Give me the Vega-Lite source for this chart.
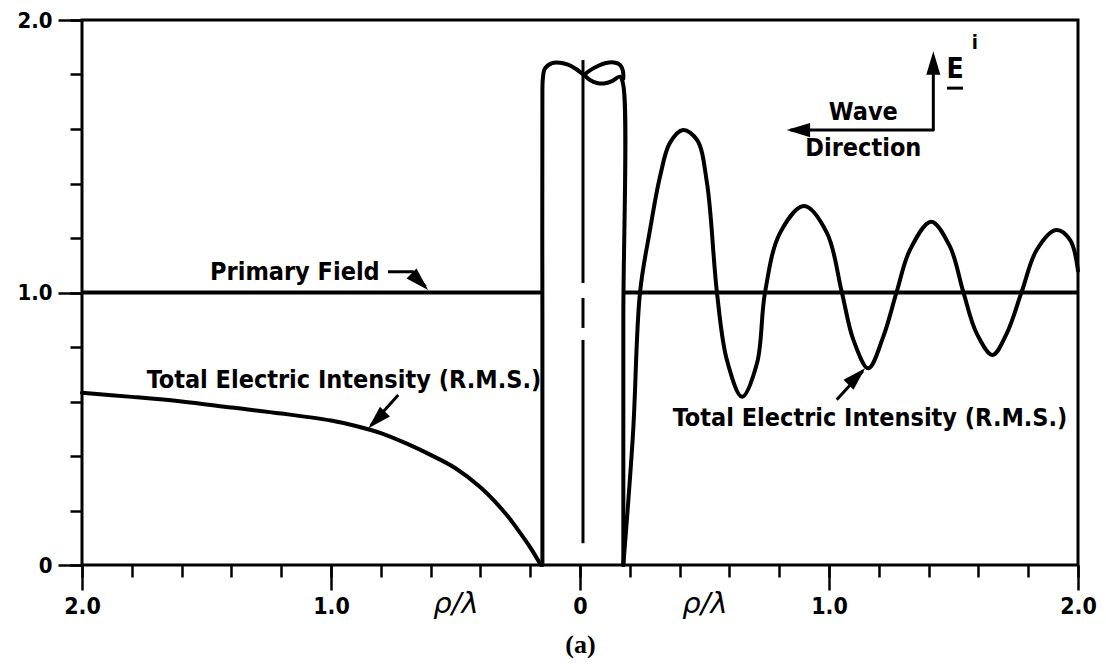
{
  "$schema": "https://vega.github.io/schema/vega-lite/v6.json",
  "width": 996,
  "height": 545,
  "autosize": {"type": "none"},
  "padding": {"left": 82, "top": 20, "right": 28, "bottom": 103},
  "background": "white",
  "config": {
    "view": {"stroke": "black", "strokeWidth": 3},
    "axis": {"grid": false, "domain": false, "tickColor": "black", "tickWidth": 2.5, "labelColor": "black", "titleColor": "black", "labelFlush": false, "labelOverlap": false, "labelBound": false}
  },
  "datasets": {
    "curve": [
      {"path": "left", "i": 1, "x": -2.0, "y": 0.632},
      {"path": "left", "i": 2, "x": -1.8, "y": 0.617},
      {"path": "left", "i": 3, "x": -1.6, "y": 0.600},
      {"path": "left", "i": 4, "x": -1.4, "y": 0.578},
      {"path": "left", "i": 5, "x": -1.2, "y": 0.556},
      {"path": "left", "i": 6, "x": -1.0, "y": 0.530},
      {"path": "left", "i": 7, "x": -0.9, "y": 0.510},
      {"path": "left", "i": 8, "x": -0.8, "y": 0.484},
      {"path": "left", "i": 9, "x": -0.7, "y": 0.447},
      {"path": "left", "i": 10, "x": -0.6, "y": 0.404},
      {"path": "left", "i": 11, "x": -0.5, "y": 0.355},
      {"path": "left", "i": 12, "x": -0.4, "y": 0.285},
      {"path": "left", "i": 13, "x": -0.3, "y": 0.190},
      {"path": "left", "i": 14, "x": -0.25, "y": 0.130},
      {"path": "left", "i": 15, "x": -0.2, "y": 0.065},
      {"path": "left", "i": 16, "x": -0.157, "y": 0.0},
      {"path": "cyl", "i": 1, "x": -0.151, "y": 0.0},
      {"path": "cyl", "i": 2, "x": -0.151, "y": 0.9},
      {"path": "cyl", "i": 3, "x": -0.151, "y": 1.74},
      {"path": "cyl", "i": 4, "x": -0.149, "y": 1.787},
      {"path": "cyl", "i": 5, "x": -0.141, "y": 1.822},
      {"path": "cyl", "i": 6, "x": -0.112, "y": 1.842},
      {"path": "cyl", "i": 7, "x": -0.080, "y": 1.843},
      {"path": "cyl", "i": 8, "x": -0.048, "y": 1.836},
      {"path": "cyl", "i": 9, "x": -0.016, "y": 1.820},
      {"path": "cyl", "i": 10, "x": 0.016, "y": 1.798},
      {"path": "cyl", "i": 11, "x": 0.040, "y": 1.780},
      {"path": "cyl", "i": 12, "x": 0.068, "y": 1.769},
      {"path": "cyl", "i": 13, "x": 0.096, "y": 1.767},
      {"path": "cyl", "i": 14, "x": 0.129, "y": 1.776},
      {"path": "cyl", "i": 15, "x": 0.160, "y": 1.792},
      {"path": "cyl", "i": 16, "x": 0.174, "y": 1.76},
      {"path": "cyl", "i": 17, "x": 0.174, "y": 0.9},
      {"path": "cyl", "i": 18, "x": 0.174, "y": 0.0},
      {"path": "lobe", "i": 1, "x": 0.016, "y": 1.798},
      {"path": "lobe", "i": 2, "x": 0.040, "y": 1.815},
      {"path": "lobe", "i": 3, "x": 0.072, "y": 1.831},
      {"path": "lobe", "i": 4, "x": 0.104, "y": 1.842},
      {"path": "lobe", "i": 5, "x": 0.137, "y": 1.844},
      {"path": "lobe", "i": 6, "x": 0.161, "y": 1.835},
      {"path": "lobe", "i": 7, "x": 0.172, "y": 1.815},
      {"path": "lobe", "i": 8, "x": 0.174, "y": 1.785},
      {"path": "right", "i": 1, "x": 0.174, "y": 0.0},
      {"path": "right", "i": 2, "x": 0.213, "y": 0.484},
      {"path": "right", "i": 3, "x": 0.241, "y": 1.0},
      {"path": "right", "i": 4, "x": 0.281, "y": 1.229},
      {"path": "right", "i": 5, "x": 0.321, "y": 1.424},
      {"path": "right", "i": 6, "x": 0.361, "y": 1.549},
      {"path": "right", "i": 7, "x": 0.414, "y": 1.596},
      {"path": "right", "i": 8, "x": 0.47, "y": 1.560},
      {"path": "right", "i": 9, "x": 0.51, "y": 1.402},
      {"path": "right", "i": 10, "x": 0.55, "y": 1.0},
      {"path": "right", "i": 11, "x": 0.59, "y": 0.752},
      {"path": "right", "i": 12, "x": 0.651, "y": 0.617},
      {"path": "right", "i": 13, "x": 0.711, "y": 0.741},
      {"path": "right", "i": 14, "x": 0.743, "y": 1.0},
      {"path": "right", "i": 15, "x": 0.803, "y": 1.218},
      {"path": "right", "i": 16, "x": 0.9, "y": 1.317},
      {"path": "right", "i": 17, "x": 0.992, "y": 1.218},
      {"path": "right", "i": 18, "x": 1.051, "y": 1.003},
      {"path": "right", "i": 19, "x": 1.098, "y": 0.826},
      {"path": "right", "i": 20, "x": 1.158, "y": 0.722},
      {"path": "right", "i": 21, "x": 1.218, "y": 0.838},
      {"path": "right", "i": 22, "x": 1.272, "y": 1.003},
      {"path": "right", "i": 23, "x": 1.325, "y": 1.156},
      {"path": "right", "i": 24, "x": 1.41, "y": 1.260},
      {"path": "right", "i": 25, "x": 1.486, "y": 1.168},
      {"path": "right", "i": 26, "x": 1.539, "y": 1.003},
      {"path": "right", "i": 27, "x": 1.593, "y": 0.850},
      {"path": "right", "i": 28, "x": 1.657, "y": 0.771},
      {"path": "right", "i": 29, "x": 1.714, "y": 0.850},
      {"path": "right", "i": 30, "x": 1.774, "y": 1.003},
      {"path": "right", "i": 31, "x": 1.834, "y": 1.156},
      {"path": "right", "i": 32, "x": 1.912, "y": 1.229},
      {"path": "right", "i": 33, "x": 1.968, "y": 1.193},
      {"path": "right", "i": 34, "x": 2.0, "y": 1.08}
    ],
    "primary": [
      {"seg": "left", "x": -2.0, "y": 1.0},
      {"seg": "left", "x": -0.151, "y": 1.0},
      {"seg": "right", "x": 0.174, "y": 1.0},
      {"seg": "right", "x": 2.0, "y": 1.0}
    ],
    "center": [
      {"x": 0.012, "y": 1.853, "y2": 1.035},
      {"x": 0.012, "y": 0.98, "y2": 0.87},
      {"x": 0.012, "y": 0.826, "y2": 0.08}
    ],
    "arrows": [
      {"path": "pf", "i": 1, "x": -0.771, "y": 1.076},
      {"path": "pf", "i": 2, "x": -0.671, "y": 1.076},
      {"path": "pf", "i": 3, "x": -0.620, "y": 1.020},
      {"path": "tl", "i": 1, "x": -0.730, "y": 0.624},
      {"path": "tl", "i": 2, "x": -0.840, "y": 0.512},
      {"path": "tr", "i": 1, "x": 1.031, "y": 0.606},
      {"path": "tr", "i": 2, "x": 1.136, "y": 0.712},
      {"path": "wave", "i": 1, "x": 0.845, "y": 1.596},
      {"path": "wave", "i": 2, "x": 1.419, "y": 1.596},
      {"path": "wave", "i": 3, "x": 1.419, "y": 1.855},
      {"path": "under", "i": 1, "x": 1.474, "y": 1.750},
      {"path": "under", "i": 2, "x": 1.538, "y": 1.750}
    ],
    "heads": [
      {"x": -0.610, "y": 1.009, "head": "dr"},
      {"x": -0.850, "y": 0.502, "head": "dl"},
      {"x": 1.145, "y": 0.722, "head": "ur"},
      {"x": 0.830, "y": 1.596, "head": "left"},
      {"x": 1.419, "y": 1.885, "head": "up"}
    ],
    "labels": [
      {"x": -1.145, "y": 1.076, "text": "Primary Field", "role": "main"},
      {"x": -0.948, "y": 0.679, "text": "Total Electric Intensity (R.M.S.)", "role": "main"},
      {"x": 1.165, "y": 0.541, "text": "Total Electric Intensity (R.M.S.)", "role": "main"},
      {"x": 1.138, "y": 1.663, "text": "Wave", "role": "main"},
      {"x": 1.138, "y": 1.532, "text": "Direction", "role": "main"},
      {"x": 1.506, "y": 1.818, "text": "E", "role": "E"},
      {"x": 1.586, "y": 1.915, "text": "i", "role": "sup"}
    ]
  },
  "layer": [
    {
      "data": {"name": "curve"},
      "mark": {"type": "line", "color": "black", "strokeWidth": 4, "strokeJoin": "round", "strokeCap": "round", "interpolate": "catmull-rom"},
      "encoding": {
        "x": {"field": "x", "type": "quantitative", "scale": {"domain": [-2, 2], "nice": false, "zero": false},
          "axis": {"orient": "bottom", "values": [-2, -1.8, -1.6, -1.4, -1.2, -1, -0.8, -0.6, -0.4, -0.2, 0, 0.2, 0.4, 0.6, 0.8, 1, 1.2, 1.4, 1.6, 1.8, 2], "labels": false, "tickSize": 12, "title": null}},
        "y": {"field": "y", "type": "quantitative", "scale": {"domain": [0, 2], "nice": false, "zero": false},
          "axis": {"orient": "left", "values": [0, 0.2, 0.4, 0.6, 0.8, 1, 1.2, 1.4, 1.6, 1.8, 2], "labels": false, "tickSize": 12, "title": null}},
        "detail": {"field": "path"},
        "order": {"field": "i"}
      }
    },
    {
      "data": {"name": "primary"},
      "mark": {"type": "line", "color": "black", "strokeWidth": 4},
      "encoding": {
        "x": {"field": "x", "type": "quantitative", "scale": {"domain": [-2, 2], "nice": false, "zero": false},
          "axis": {"orient": "bottom", "values": [-2, -1, 0, 1, 2], "tickSize": 25, "labelExpr": "datum.value == 0 ? '0' : format(abs(datum.value), '.1f')", "labelFont": "DejaVu Sans Condensed", "labelFontWeight": "bold", "labelFontSize": 23, "labelPadding": 5, "title": "(a)", "titleFont": "Liberation Serif", "titleFontWeight": "bold", "titleFontSize": 26, "titlePadding": 13}},
        "y": {"field": "y", "type": "quantitative", "scale": {"domain": [0, 2], "nice": false, "zero": false},
          "axis": {"orient": "left", "values": [0, 1, 2], "tickSize": 24, "labelExpr": "datum.value == 0 ? '0' : format(datum.value, '.1f')", "labelFont": "DejaVu Sans Condensed", "labelFontWeight": "bold", "labelFontSize": 22, "labelPadding": 6, "title": null}},
        "detail": {"field": "seg"}
      }
    },
    {
      "data": {"name": "center"},
      "mark": {"type": "rule", "color": "black", "strokeWidth": 3},
      "encoding": {
        "x": {"field": "x", "type": "quantitative", "scale": {"domain": [-2, 2], "nice": false, "zero": false},
          "axis": {"orient": "bottom", "values": [-0.5, 0.5], "ticks": false, "labelExpr": "'ρ/λ'", "labelFont": "DejaVu Sans", "labelFontStyle": "italic", "labelFontSize": 29, "labelBaseline": "middle", "labelPadding": 38, "title": null}},
        "y": {"field": "y", "type": "quantitative", "scale": {"domain": [0, 2], "nice": false, "zero": false}, "axis": null},
        "y2": {"field": "y2"}
      }
    },
    {
      "data": {"name": "arrows"},
      "mark": {"type": "line", "color": "black", "strokeWidth": 3, "strokeJoin": "round"},
      "encoding": {
        "x": {"field": "x", "type": "quantitative", "scale": {"domain": [-2, 2], "nice": false, "zero": false}, "axis": null},
        "y": {"field": "y", "type": "quantitative", "scale": {"domain": [0, 2], "nice": false, "zero": false}, "axis": null},
        "detail": {"field": "path"},
        "order": {"field": "i"}
      }
    },
    {
      "data": {"name": "heads"},
      "mark": {"type": "point", "filled": true, "color": "black", "opacity": 1, "size": 550, "strokeWidth": 0},
      "encoding": {
        "x": {"field": "x", "type": "quantitative", "scale": {"domain": [-2, 2], "nice": false, "zero": false}, "axis": null},
        "y": {"field": "y", "type": "quantitative", "scale": {"domain": [0, 2], "nice": false, "zero": false}, "axis": null},
        "shape": {"field": "head", "type": "nominal", "legend": null,
          "scale": {"domain": ["left", "up", "dl", "ur", "dr"],
            "range": ["M0,0L2,-0.6L2,0.6Z", "M0,0L-0.6,2L0.6,2Z", "M0,0L1.84,-0.99L0.99,-1.84Z", "M0,0L-0.99,1.84L-1.84,0.99Z", "M0,0L-0.99,-1.84L-1.84,-0.99Z"]}}
      }
    },
    {
      "data": {"name": "labels"},
      "transform": [{"filter": "datum.role == 'main'"}],
      "mark": {"type": "text", "font": "DejaVu Sans Condensed", "fontWeight": "bold", "fontSize": 25, "align": "center", "baseline": "middle", "color": "black"},
      "encoding": {
        "x": {"field": "x", "type": "quantitative", "scale": {"domain": [-2, 2], "nice": false, "zero": false}, "axis": null},
        "y": {"field": "y", "type": "quantitative", "scale": {"domain": [0, 2], "nice": false, "zero": false}, "axis": null},
        "text": {"field": "text"}
      }
    },
    {
      "data": {"name": "labels"},
      "transform": [{"filter": "datum.role == 'E'"}],
      "mark": {"type": "text", "font": "DejaVu Sans Condensed", "fontWeight": "bold", "fontSize": 28, "align": "center", "baseline": "middle", "color": "black"},
      "encoding": {
        "x": {"field": "x", "type": "quantitative", "scale": {"domain": [-2, 2], "nice": false, "zero": false}, "axis": null},
        "y": {"field": "y", "type": "quantitative", "scale": {"domain": [0, 2], "nice": false, "zero": false}, "axis": null},
        "text": {"field": "text"}
      }
    },
    {
      "data": {"name": "labels"},
      "transform": [{"filter": "datum.role == 'sup'"}],
      "mark": {"type": "text", "font": "DejaVu Sans Condensed", "fontWeight": "bold", "fontSize": 20, "align": "center", "baseline": "middle", "color": "black"},
      "encoding": {
        "x": {"field": "x", "type": "quantitative", "scale": {"domain": [-2, 2], "nice": false, "zero": false}, "axis": null},
        "y": {"field": "y", "type": "quantitative", "scale": {"domain": [0, 2], "nice": false, "zero": false}, "axis": null},
        "text": {"field": "text"}
      }
    }
  ],
  "resolve": {"axis": {"x": "independent", "y": "independent"}}
}
